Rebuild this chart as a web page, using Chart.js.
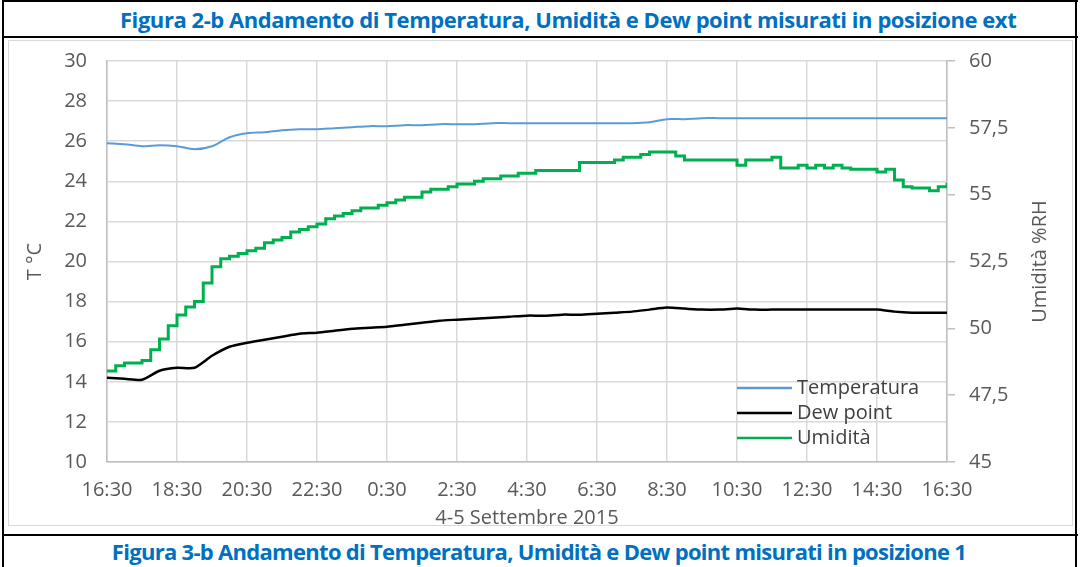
<!DOCTYPE html>
<html>
<head>
<meta charset="utf-8">
<script src="https://cdn.jsdelivr.net/npm/chart.js@4/dist/chart.umd.min.js"></script>
<style>
  html, body { margin: 0; padding: 0; background: #fff; }
  body { width: 1080px; height: 567px; position: relative; overflow: hidden; font-family: "Open Sans", sans-serif; }
  .bar { position: absolute; background: #000; }
  .caption { position: absolute; white-space: nowrap; color: #0070C0; font-weight: bold; font-size: 22px; letter-spacing: -0.45px; line-height: 26px; }
  #chartBox { position: absolute; left: 8px; top: 40px; width: 1063px; height: 484px; border: 1px solid #d9d9d9; }
  #wrap { position: absolute; left: 8px; top: 29px; width: 1064px; height: 501px; }
</style>
</head>
<body>
<div class="bar" style="left:2px;top:0;width:1076px;height:2px"></div>
<div class="bar" style="left:2px;top:0;width:2px;height:567px"></div>
<div class="bar" style="left:1075px;top:0;width:2px;height:567px"></div>
<div class="bar" style="left:2px;top:36px;width:1076px;height:2px"></div>
<div class="bar" style="left:2px;top:534px;width:1076px;height:2px"></div>
<div class="caption" style="top:6px;left:120px">Figura 2-b Andamento di Temperatura, Umidità e Dew point misurati in posizione ext</div>
<div class="caption" style="top:538px;left:4px;width:1070px;text-align:center;letter-spacing:-0.7px">Figura 3-b Andamento di Temperatura, Umidità e Dew point misurati in posizione 1</div>
<div id="chartBox"></div>
<div id="wrap"><canvas id="chart" width="1064" height="501"></canvas></div>

<script>
// minutes after 16:30 of 4 September; samples every 30 min (T, dew) and 15 min (RH)
const START_MIN = 16 * 60 + 30;
const tempStep = 30;
const humStep = 15;

const temperatura = [
  25.9, 25.85, 25.75, 25.8, 25.75, 25.6, 25.75, 26.2, 26.4, 26.45,
  26.55, 26.6, 26.6, 26.65, 26.7, 26.75, 26.75, 26.8, 26.8, 26.85,
  26.85, 26.85, 26.9, 26.9, 26.9, 26.9, 26.9, 26.9, 26.9, 26.9,
  26.9, 26.95, 27.1, 27.1, 27.15, 27.15, 27.15, 27.15, 27.15, 27.15,
  27.15, 27.15, 27.15, 27.15, 27.15, 27.15, 27.15, 27.15, 27.15
];

const dewPoint = [
  14.2, 14.15, 14.1, 14.55, 14.7, 14.7, 15.3, 15.75, 15.95, 16.1,
  16.25, 16.4, 16.45, 16.55, 16.65, 16.7, 16.75, 16.85, 16.95, 17.05,
  17.1, 17.15, 17.2, 17.25, 17.3, 17.3, 17.35, 17.35, 17.4, 17.45,
  17.5, 17.6, 17.7, 17.65, 17.6, 17.6, 17.65, 17.6, 17.6, 17.6,
  17.6, 17.6, 17.6, 17.6, 17.6, 17.5, 17.45, 17.45, 17.45
];

const umidita = [
  48.4, 48.6, 48.7, 48.7, 48.8, 49.2, 49.6, 50.1, 50.5, 50.8,
  51.0, 51.7, 52.3, 52.6, 52.7, 52.8, 52.9, 53.0, 53.2, 53.3,
  53.4, 53.6, 53.7, 53.8, 53.9, 54.1, 54.2, 54.3, 54.4, 54.5,
  54.5, 54.6, 54.7, 54.8, 54.9, 54.9, 55.1, 55.2, 55.2, 55.3,
  55.4, 55.4, 55.5, 55.6, 55.6, 55.7, 55.7, 55.8, 55.8, 55.9,
  55.9, 55.9, 55.9, 55.9, 56.2, 56.2, 56.2, 56.2, 56.3, 56.4,
  56.4, 56.5, 56.6, 56.6, 56.6, 56.45, 56.3, 56.3, 56.3, 56.3,
  56.3, 56.3, 56.1, 56.3, 56.3, 56.3, 56.4, 56.0, 56.0, 56.1,
  56.0, 56.1, 56.0, 56.1, 56.0, 55.95, 55.95, 55.95, 55.85, 55.95,
  55.55, 55.3, 55.25, 55.25, 55.15, 55.3, 55.45
];

const seriesNames = ["Temperatura", "Dew point", "Umidità"];
const seriesColors = ["#5B9BD5", "#000000", "#00B050"];

const tempTicks = { min: 10, max: 30, step: 2 };
const humTicks = { min: 45, max: 60, step: 2.5 };
const timeTicks = { min: 0, max: 1440, step: 120 };

const toPoints = (arr, step) => arr.map((v, i) => ({ x: i * step, y: v }));

function clockLabel(v) {
  const m = (START_MIN + v) % 1440;
  const h = Math.floor(m / 60);
  const mm = String(m % 60).padStart(2, "0");
  return h + ":" + mm;
}

const tickFont = { family: "'Open Sans', sans-serif", size: 20 };
const textGray = "#595959";
const gridGray = "#d9d9d9";

// legend inside the plot (bottom right) + right axis title reading upwards
const extras = {
  id: "extras",
  afterDatasetsDraw(chart) {
    const { ctx, chartArea } = chart;
    const x0 = chartArea.right - 210;
    let y = chartArea.bottom - 74;
    ctx.save();
    ctx.font = "20px 'Open Sans', sans-serif";
    ctx.textBaseline = "middle";
    ctx.textAlign = "left";
    chart.data.datasets.forEach(ds => {
      ctx.strokeStyle = ds.borderColor;
      ctx.lineWidth = 2.5;
      ctx.beginPath();
      ctx.moveTo(x0, y);
      ctx.lineTo(x0 + 55, y);
      ctx.stroke();
      ctx.fillStyle = "#404040";
      ctx.fillText(ds.label, x0 + 60, y);
      y += 25;
    });

    const yr = chart.scales.y2;
    ctx.translate(yr.right - 32, (chartArea.top + chartArea.bottom) / 2);
    ctx.rotate(-Math.PI / 2);
    ctx.textAlign = "center";
    ctx.fillStyle = textGray;
    ctx.fillText("Umidità %RH", 0, 0);
    ctx.restore();
  }
};

new Chart(document.getElementById("chart"), {
  type: "line",
  data: {
    datasets: [
      {
        label: seriesNames[0],
        data: toPoints(temperatura, tempStep),
        borderColor: seriesColors[0],
        borderWidth: 2,
        tension: 0.3,
        yAxisID: "y"
      },
      {
        label: seriesNames[1],
        data: toPoints(dewPoint, tempStep),
        borderColor: seriesColors[1],
        borderWidth: 2.5,
        tension: 0.2,
        yAxisID: "y"
      },
      {
        label: seriesNames[2],
        data: toPoints(umidita, humStep),
        borderColor: seriesColors[2],
        borderWidth: 3,
        stepped: true,
        yAxisID: "y2"
      }
    ]
  },
  options: {
    responsive: false,
    animation: false,
    layout: { padding: { top: 8, left: 0, right: 0, bottom: 0 } },
    elements: { point: { radius: 0 } },
    plugins: {
      legend: { display: false },
      tooltip: { enabled: false }
    },
    scales: {
      x: {
        type: "linear",
        min: timeTicks.min,
        max: timeTicks.max,
        afterFit: s => { s.height = 68; },
        ticks: {
          stepSize: timeTicks.step,
          callback: v => clockLabel(v),
          font: tickFont,
          color: textGray,
          padding: 16,
          maxRotation: 0
        },
        grid: { color: gridGray, lineWidth: 1.5, drawTicks: false },
        border: { color: "#bfbfbf", width: 1.5 },
        title: {
          display: true,
          text: "4-5 Settembre 2015",
          font: tickFont,
          color: textGray,
          padding: { top: 0, bottom: 0 }
        }
      },
      y: {
        position: "left",
        min: tempTicks.min,
        max: tempTicks.max,
        afterFit: s => { s.width = 99; },
        ticks: {
          stepSize: tempTicks.step,
          font: tickFont,
          color: textGray,
          padding: 20
        },
        grid: { color: gridGray, lineWidth: 1.5, drawTicks: false },
        border: { color: "#bfbfbf", width: 1.5 },
        title: {
          display: true,
          text: "T °C",
          font: tickFont,
          color: textGray,
          padding: { top: 15, bottom: 0 }
        }
      },
      y2: {
        position: "right",
        min: humTicks.min,
        max: humTicks.max,
        afterFit: s => { s.width = 125; },
        ticks: {
          stepSize: humTicks.step,
          callback: v => String(v).replace(".", ","),
          font: tickFont,
          color: textGray,
          padding: 14
        },
        grid: { drawOnChartArea: false, drawTicks: true, tickLength: 8, color: "#bfbfbf", lineWidth: 1.5 },
        border: { color: "#bfbfbf", width: 1.5 },
        title: { display: false }
      }
    }
  },
  plugins: [extras]
});
</script>
</body>
</html>
